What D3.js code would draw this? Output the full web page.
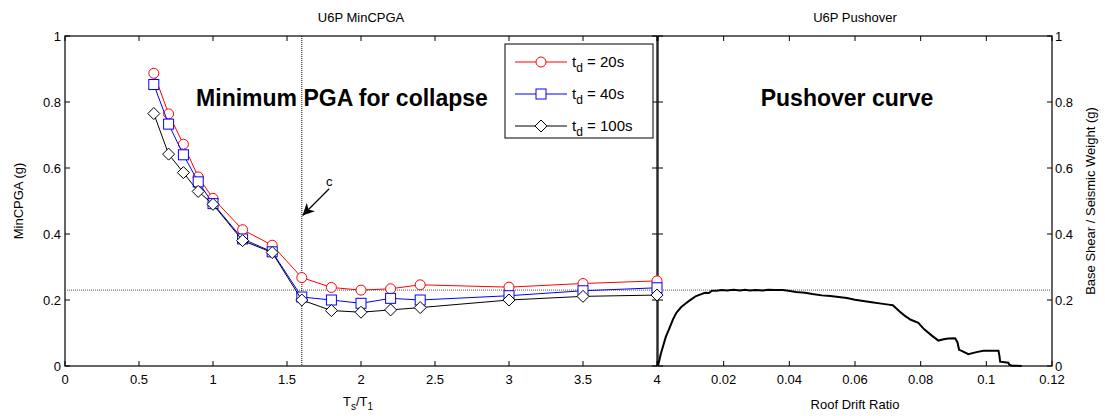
<!DOCTYPE html>
<html><head><meta charset="utf-8">
<script src="https://cdn.jsdelivr.net/npm/d3@7"></script>
<style>
body{margin:0;background:#fff;}
text{font-family:"Liberation Sans",Arial,sans-serif;}
</style></head>
<body><svg id="c" width="1105" height="416"></svg>
<script>
// ---- data ----
const ratio = [0.6,0.7,0.8,0.9,1.0,1.2,1.4,1.6,1.8,2.0,2.2,2.4,3.0,3.5,4.0];
const td20  = [0.887,0.764,0.672,0.573,0.508,0.413,0.366,0.268,0.238,0.230,0.234,0.246,0.239,0.250,0.258];
const td40  = [0.853,0.733,0.640,0.558,0.492,0.385,0.346,0.209,0.200,0.190,0.205,0.200,0.213,0.228,0.237];
const td100 = [0.765,0.642,0.586,0.529,0.490,0.380,0.344,0.200,0.168,0.163,0.170,0.177,0.200,0.211,0.215];
const seriesNames = ["20s","40s","100s"];
const driftRatio = [0,0.0008,0.0016,0.0024,0.0035,0.0045,0.0055,0.007,0.0085,0.010,0.0116,0.013,0.0143,0.0155,0.0164,0.0178,0.0194,0.021,0.023,0.025,0.0265,0.028,0.0296,0.032,0.0335,0.0356,0.038,0.0397,0.042,0.0448,0.047,0.0499,0.0525,0.055,0.0575,0.060,0.0625,0.0651,0.068,0.0702,0.0715,0.0722,0.0735,0.0752,0.077,0.0793,0.081,0.0834,0.0854,0.087,0.0884,0.0905,0.0912,0.0917,0.0925,0.0945,0.097,0.0991,0.1037,0.1040,0.1042,0.1067,0.1070,0.1078,0.1108];
const baseShear  = [0,0.035,0.062,0.089,0.115,0.140,0.160,0.178,0.190,0.201,0.212,0.217,0.222,0.221,0.228,0.228,0.230,0.229,0.231,0.229,0.231,0.229,0.230,0.229,0.231,0.230,0.230,0.228,0.224,0.222,0.218,0.214,0.212,0.209,0.206,0.201,0.197,0.193,0.189,0.186,0.184,0.178,0.166,0.152,0.140,0.131,0.112,0.092,0.077,0.081,0.083,0.084,0.072,0.049,0.046,0.036,0.042,0.046,0.046,0.030,0.013,0.010,0.004,0.001,0.000];
const yTicks = [0,0.2,0.4,0.6,0.8,1];
const xTicksL = [0,0.5,1,1.5,2,2.5,3,3.5,4];
const xTicksR = [0,0.02,0.04,0.06,0.08,0.1,0.12];
const refPGA = 0.230;
const refRatio = 1.6;

// ---- layout ----
const svg = d3.select("#c");
const yTop = 36, yBot = 366;
const L = {x0:65, x1:657}, R = {x0:658, x1:1052};
const y = d3.scaleLinear().domain([0,1]).range([yBot,yTop]);
const xL = d3.scaleLinear().domain([0,4]).range([L.x0,L.x1]);
const xR = d3.scaleLinear().domain([0,0.12]).range([R.x0,R.x1]);
const fmt = d => d===0?"0":d===1?"1":String(d);

function box(x0,x1){
  svg.append("rect").attr("x",x0).attr("y",yTop).attr("width",x1-x0).attr("height",yBot-yTop)
    .attr("fill","#fff").attr("stroke","#000").attr("stroke-width",1.2);
}
box(L.x0,L.x1); box(R.x0,R.x1);

// ticks (inward, MATLAB style)
function ticks(xs, sx, x0, x1, leftLabels, rightLabels, skip0){
  const g = svg.append("g");
  xs.forEach(t=>{
    const px = sx(t);
    g.append("line").attr("x1",px).attr("x2",px).attr("y1",yBot).attr("y2",yBot-5).attr("stroke","#000");
    g.append("line").attr("x1",px).attr("x2",px).attr("y1",yTop).attr("y2",yTop+5).attr("stroke","#000");
    if(!(skip0 && t===0))
      g.append("text").attr("x",px).attr("y",yBot+18).attr("text-anchor","middle").attr("font-size",13).text(fmt(t));
  });
  yTicks.forEach(t=>{
    const py = y(t);
    g.append("line").attr("x1",x0).attr("x2",x0+5).attr("y1",py).attr("y2",py).attr("stroke","#000");
    g.append("line").attr("x1",x1).attr("x2",x1-5).attr("y1",py).attr("y2",py).attr("stroke","#000");
    if(leftLabels) g.append("text").attr("x",x0-4).attr("y",py+5).attr("text-anchor","end").attr("font-size",13).text(fmt(t));
    if(rightLabels) g.append("text").attr("x",x1+3).attr("y",py+5).attr("text-anchor","start").attr("font-size",13).text(fmt(t));
  });
}
ticks(xTicksL, xL, L.x0, L.x1, true, false, false);
ticks(xTicksR, xR, R.x0, R.x1, false, true, true);

// reference lines
svg.append("line").attr("x1",L.x0).attr("x2",R.x1).attr("y1",y(refPGA)).attr("y2",y(refPGA))
  .attr("stroke","#555").attr("stroke-width",1).attr("stroke-dasharray","1,1");
svg.append("line").attr("x1",xL(refRatio)).attr("x2",xL(refRatio)).attr("y1",yTop).attr("y2",yBot)
  .attr("stroke","#000").attr("stroke-width",1).attr("stroke-dasharray","1,1");

// big labels
svg.append("text").attr("x",342).attr("y",106).attr("text-anchor","middle").attr("font-size",23).attr("font-weight","bold").text("Minimum PGA for collapse");
svg.append("text").attr("x",847).attr("y",106).attr("text-anchor","middle").attr("font-size",23).attr("font-weight","bold").text("Pushover curve");

// titles & axis labels
svg.append("text").attr("x",(L.x0+L.x1)/2).attr("y",22).attr("text-anchor","middle").attr("font-size",13).text("U6P MinCPGA");
svg.append("text").attr("x",(R.x0+R.x1)/2).attr("y",22).attr("text-anchor","middle").attr("font-size",13).text("U6P Pushover");
const xl = svg.append("text").attr("x",358).attr("y",406).attr("text-anchor","middle").attr("font-size",13);
xl.append("tspan").text("T");
xl.append("tspan").attr("font-size",10).attr("dy",4).text("s");
xl.append("tspan").attr("dy",-4).text("/T");
xl.append("tspan").attr("font-size",10).attr("dy",4).text("1");
svg.append("text").attr("x",(R.x0+R.x1)/2).attr("y",409).attr("text-anchor","middle").attr("font-size",13).text("Roof Drift Ratio");
svg.append("text").attr("transform",`translate(23,${(yTop+yBot)/2}) rotate(-90)`).attr("text-anchor","middle").attr("font-size",13).text("MinCPGA (g)");
svg.append("text").attr("transform",`translate(1095,${(yTop+yBot)/2}) rotate(-90)`).attr("text-anchor","middle").attr("font-size",13).text("Base Shear / Seismic Weight (g)");

// arrow + c
svg.append("defs").append("marker").attr("id","ah").attr("viewBox","0 0 10 10").attr("refX",10).attr("refY",5)
  .attr("markerWidth",12).attr("markerHeight",12).attr("markerUnits","userSpaceOnUse").attr("orient","auto")
  .append("path").attr("d","M0,0 L10,5 L0,10 L3,5 Z").attr("fill","#000");
svg.append("line").attr("x1",xL(1.785)).attr("y1",y(0.537)).attr("x2",xL(1.605)).attr("y2",y(0.456))
  .attr("stroke","#000").attr("stroke-width",1.2).attr("marker-end","url(#ah)");
svg.append("text").attr("x",xL(1.785)).attr("y",y(0.546)).attr("text-anchor","middle").attr("font-size",13).text("c");

// series
const colors = ["#ff0000","#0000ff","#000000"];
const vals = [td20,td40,td100];
function marker(g, i, cx, cy){
  if(i===0) g.append("circle").attr("cx",cx).attr("cy",cy).attr("r",5).attr("fill","#fff").attr("stroke",colors[i]);
  else if(i===1) g.append("rect").attr("x",cx-5).attr("y",cy-5).attr("width",10).attr("height",10).attr("fill","#fff").attr("stroke",colors[i]);
  else g.append("path").attr("d",`M${cx},${cy-6}L${cx+6},${cy}L${cx},${cy+6}L${cx-6},${cy}Z`).attr("fill","#fff").attr("stroke",colors[i]);
}
vals.forEach((v,i)=>{
  const g = svg.append("g");
  g.append("path").datum(ratio.map((r,k)=>[r,v[k]]))
    .attr("d",d3.line().x(d=>xL(d[0])).y(d=>y(d[1]))).attr("fill","none").attr("stroke",colors[i]).attr("stroke-width",1);
  ratio.forEach((r,k)=>marker(g,i,xL(r),y(v[k])));
});

// pushover curve
svg.append("path").datum(driftRatio.map((d,k)=>[d,baseShear[k]]))
  .attr("d",d3.line().x(d=>xR(d[0])).y(d=>y(d[1]))).attr("fill","none").attr("stroke","#000").attr("stroke-width",2);

// legend
const lg = svg.append("g");
lg.append("rect").attr("x",505).attr("y",44).attr("width",148).attr("height",94).attr("fill","#fff").attr("stroke","#000").attr("stroke-width",1);
[62,94,126].forEach((ly,i)=>{
  lg.append("line").attr("x1",515).attr("x2",567).attr("y1",ly).attr("y2",ly).attr("stroke",colors[i]);
  marker(lg,i,541,ly);
  const t = lg.append("text").attr("x",572).attr("y",ly+5).attr("font-size",15);
  t.append("tspan").text("t");
  t.append("tspan").attr("font-size",12).attr("dy",5).text("d");
  t.append("tspan").attr("dy",-5).text(" = " + seriesNames[i]);
});
</script></body></html>
